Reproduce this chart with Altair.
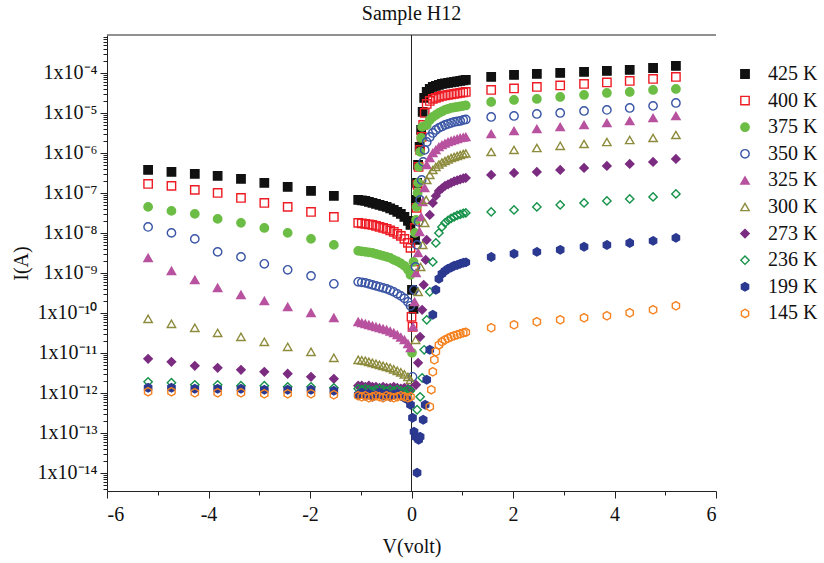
import altair as alt
import pandas as pd

FONT = "Liberation Serif"

SERIES = ["425 K", "400 K", "375 K", "350 K", "325 K", "300 K", "273 K", "236 K", "199 K", "145 K"]
COLORS = ["#111111", "#ed1c24", "#6cbd45", "#3a55a5", "#b8529f", "#8d8b3c", "#7b2c80", "#17924a", "#2b3990", "#f58220"]
FILLS = ["#111111", "transparent", "#6cbd45", "transparent", "#b8529f", "transparent", "#7b2c80", "transparent", "#2b3990", "transparent"]
HEX = "M0,-1L0.866,-0.5L0.866,0.5L0,1L-0.866,0.5L-0.866,-0.5Z"
SHAPES = ["square", "square", "circle", "circle", "triangle-up", "triangle-up", "diamond", "diamond", HEX, HEX]
SIZES = [70, 70, 85, 85, 120, 120, 110, 110, 95, 95]

# voltages (V)
LEFT_SPARSE_X = [-5.19, -4.73, -4.27, -3.82, -3.36, -2.90, -2.44, -1.98, -1.53]
LEFT_DENSE_X = [-1.05, -0.98, -0.91, -0.84, -0.77, -0.70, -0.63, -0.56, -0.49, -0.42, -0.35, -0.28, -0.21, -0.14, -0.07, -0.02]
RIGHT_DENSE_X = [0.30, 0.36, 0.42, 0.48, 0.54, 0.60, 0.66, 0.72, 0.78, 0.84, 0.90, 0.96, 1.02, 1.07]
RIGHT_SPARSE_X = [1.57, 2.02, 2.47, 2.93, 3.40, 3.85, 4.30, 4.76, 5.21]

# currents (A)
I_425_LS = [3.76e-7, 3.35e-7, 2.99e-7, 2.66e-7, 2.24e-7, 1.78e-7, 1.41e-7, 1.12e-7, 8.4e-8]
I_425_LD = [6.68e-8, 6.49e-8, 6.31e-8, 5.96e-8, 5.62e-8, 5.31e-8, 5.01e-8, 4.73e-8, 4.47e-8, 4.1e-8, 3.76e-8, 3.35e-8, 2.99e-8, 2.51e-8, 2.0e-8, 1.58e-8]
V_425_T = [0.01, 0.04, 0.07, 0.09, 0.11, 0.13, 0.16, 0.19, 0.22, 0.25]
I_425_T = [3.76e-10, 1.26e-10, 6.68e-9, 6.68e-8, 1.78e-7, 5.01e-7, 1.41e-6, 3.76e-6, 1.06e-5, 2.37e-5]
I_425_RD = [3.35e-5, 3.98e-5, 4.47e-5, 4.73e-5, 5.01e-5, 5.31e-5, 5.46e-5, 5.62e-5, 5.79e-5, 5.96e-5, 6.13e-5, 6.31e-5, 6.49e-5, 6.68e-5]
I_425_RS = [7.94e-5, 8.91e-5, 9.44e-5, 1.0e-4, 1.06e-4, 1.12e-4, 1.19e-4, 1.33e-4, 1.50e-4]

I_400_LS = [1.68e-7, 1.50e-7, 1.19e-7, 1.0e-7, 7.5e-8, 5.62e-8, 4.47e-8, 3.35e-8, 2.51e-8]
I_400_LD = [1.78e-8, 1.73e-8, 1.68e-8, 1.63e-8, 1.58e-8, 1.50e-8, 1.41e-8, 1.33e-8, 1.26e-8, 1.15e-8, 1.06e-8, 9.44e-9, 8.41e-9, 7.08e-9, 5.62e-9, 4.22e-9]
V_400_T = [0.00, 0.02, 0.05, 0.07, 0.10, 0.12, 0.14, 0.17, 0.20, 0.23, 0.26]
I_400_T = [7.94e-11, 4.47e-11, 1.19e-9, 1.33e-8, 4.22e-8, 1.58e-7, 4.47e-7, 1.19e-6, 2.51e-6, 5.01e-6, 1.0e-5]
I_400_RD = [1.68e-5, 2.0e-5, 2.24e-5, 2.37e-5, 2.51e-5, 2.66e-5, 2.74e-5, 2.82e-5, 2.90e-5, 2.99e-5, 3.08e-5, 3.16e-5, 3.25e-5, 3.35e-5]
I_400_RS = [3.76e-5, 4.10e-5, 4.47e-5, 4.87e-5, 5.31e-5, 5.79e-5, 6.31e-5, 7.08e-5, 7.94e-5]

I_375_LS = [4.47e-8, 3.55e-8, 2.99e-8, 2.24e-8, 1.78e-8, 1.33e-8, 1.0e-8, 7.08e-9, 5.01e-9]
I_375_LD = [3.55e-9, 3.45e-9, 3.35e-9, 3.25e-9, 3.16e-9, 2.99e-9, 2.82e-9, 2.66e-9, 2.51e-9, 2.37e-9, 2.11e-9, 1.94e-9, 1.73e-9, 1.50e-9, 1.19e-9, 8.91e-10]
V_375_T = [0.01, 0.04, 0.07, 0.09, 0.10, 0.12, 0.13, 0.15, 0.17, 0.19, 0.21]
I_375_T = [1.0e-11, 1.88e-9, 1.0e-8, 2.11e-8, 4.47e-8, 1.0e-7, 1.78e-7, 4.47e-7, 1.06e-6, 2.37e-6, 4.47e-6]
I_375_RD = [5.01e-6, 6.68e-6, 7.94e-6, 8.91e-6, 1.0e-5, 1.09e-5, 1.19e-5, 1.26e-5, 1.33e-5, 1.37e-5, 1.41e-5, 1.45e-5, 1.50e-5, 1.54e-5]
I_375_RS = [1.88e-5, 2.11e-5, 2.24e-5, 2.51e-5, 2.82e-5, 3.16e-5, 3.35e-5, 3.76e-5, 3.98e-5]

I_350_LS = [1.41e-8, 1.0e-8, 7.08e-9, 3.35e-9, 2.51e-9, 1.68e-9, 1.19e-9, 8.41e-10, 5.31e-10]
I_350_LD = [5.96e-10, 5.79e-10, 5.62e-10, 5.31e-10, 5.01e-10, 4.73e-10, 4.47e-10, 4.22e-10, 3.98e-10, 3.65e-10, 3.35e-10, 2.99e-10, 2.66e-10, 2.30e-10, 1.88e-10, 1.50e-10]
V_350_T = [0.02, 0.05, 0.08, 0.11, 0.14, 0.17, 0.20, 0.23, 0.26]
I_350_T = [2.51e-12, 3.76e-10, 1.41e-9, 5.01e-9, 1.88e-8, 6.68e-8, 2.11e-7, 5.96e-7, 1.19e-6]
I_350_RD = [1.88e-6, 2.51e-6, 3.16e-6, 3.76e-6, 4.22e-6, 4.6e-6, 5.01e-6, 5.31e-6, 5.62e-6, 5.96e-6, 6.13e-6, 6.31e-6, 6.68e-6, 6.88e-6]
I_350_RS = [7.94e-6, 8.41e-6, 9.44e-6, 1.0e-5, 1.12e-5, 1.19e-5, 1.33e-5, 1.50e-5, 1.78e-5]

I_325_LS = [2.37e-9, 1.12e-9, 6.68e-10, 4.22e-10, 2.82e-10, 1.99e-10, 1.41e-10, 1.0e-10, 7.5e-11]
I_325_LD = [5.96e-11, 5.62e-11, 5.31e-11, 5.01e-11, 4.73e-11, 4.47e-11, 4.22e-11, 3.98e-11, 3.76e-11, 3.45e-11, 3.16e-11, 2.82e-11, 2.44e-11, 2.11e-11, 1.68e-11, 1.33e-11]
V_325_T = [0.03, 0.06, 0.09, 0.13, 0.16, 0.19, 0.22, 0.26]
I_325_T = [4.47e-11, 1.88e-10, 1.0e-9, 3.16e-9, 1.06e-8, 2.51e-8, 5.96e-8, 1.33e-7]
I_325_RD = [5.01e-7, 7.5e-7, 1.0e-6, 1.19e-6, 1.41e-6, 1.58e-6, 1.73e-6, 1.88e-6, 2.0e-6, 2.11e-6, 2.24e-6, 2.37e-6, 2.44e-6, 2.51e-6]
I_325_RS = [2.99e-6, 3.55e-6, 3.98e-6, 4.47e-6, 5.01e-6, 5.62e-6, 6.31e-6, 7.5e-6, 8.41e-6]

I_300_LS = [7.08e-11, 5.31e-11, 4.22e-11, 3.16e-11, 2.51e-11, 1.88e-11, 1.41e-11, 1.06e-11, 7.5e-12]
I_300_LD = [6.68e-12, 6.49e-12, 6.31e-12, 5.96e-12, 5.62e-12, 5.31e-12, 5.01e-12, 4.73e-12, 4.47e-12, 4.22e-12, 3.87e-12, 3.55e-12, 3.25e-12, 2.90e-12, 2.51e-12, 2.11e-12]
V_300_T = [0.08, 0.13, 0.18, 0.22, 0.26, 0.29]
I_300_T = [2.11e-11, 3.35e-10, 1.41e-9, 5.01e-9, 1.78e-8, 6.68e-8]
I_300_RD = [2.11e-7, 2.82e-7, 3.76e-7, 4.47e-7, 5.16e-7, 5.79e-7, 6.31e-7, 6.88e-7, 7.5e-7, 7.94e-7, 8.41e-7, 8.91e-7, 9.44e-7, 9.71e-7]
I_300_RS = [1.06e-6, 1.19e-6, 1.33e-6, 1.50e-6, 1.68e-6, 1.88e-6, 2.11e-6, 2.37e-6, 2.82e-6]

I_273_LS = [7.08e-12, 5.96e-12, 4.73e-12, 4.22e-12, 3.76e-12, 3.35e-12, 2.99e-12, 2.51e-12, 2.24e-12]
I_273_LD = [1.50e-12, 1.50e-12, 1.41e-12, 1.50e-12, 1.41e-12, 1.41e-12, 1.33e-12, 1.41e-12, 1.33e-12, 1.33e-12, 1.41e-12, 1.33e-12, 1.26e-12, 1.33e-12, 1.26e-12, 1.19e-12]
V_273_T = [0.09, 0.13, 0.17, 0.21, 0.24, 0.28]
I_273_T = [1.58e-12, 5.62e-12, 2.51e-11, 1.19e-10, 5.01e-10, 2.11e-9]
I_273_RD = [6.68e-9, 2.82e-8, 5.62e-8, 8.41e-8, 1.12e-7, 1.30e-7, 1.50e-7, 1.63e-7, 1.78e-7, 1.94e-7, 2.05e-7, 2.17e-7, 2.30e-7, 2.37e-7]
I_273_RS = [2.82e-7, 3.16e-7, 3.35e-7, 3.76e-7, 4.22e-7, 4.73e-7, 5.31e-7, 5.96e-7, 7.08e-7]

I_236_LS = [1.88e-12, 1.78e-12, 1.58e-12, 1.58e-12, 1.50e-12, 1.50e-12, 1.41e-12, 1.41e-12, 1.33e-12]
I_236_LD = [1.26e-12, 1.19e-12, 1.26e-12, 1.19e-12, 1.12e-12, 1.19e-12, 1.26e-12, 1.19e-12, 1.12e-12, 1.19e-12, 1.12e-12, 1.19e-12, 1.12e-12, 1.06e-12, 1.19e-12, 1.12e-12]
V_236_T = [0.11, 0.17, 0.21, 0.25]
I_236_T = [3.76e-13, 7.94e-13, 2.37e-12, 1.19e-11]
I_236_RD = [6.68e-11, 3.35e-10, 1.88e-9, 5.62e-9, 1.0e-8, 1.41e-8, 1.78e-8, 2.05e-8, 2.30e-8, 2.51e-8, 2.74e-8, 2.90e-8, 3.08e-8, 3.16e-8]
I_236_RS = [3.35e-8, 3.76e-8, 4.47e-8, 5.01e-8, 5.62e-8, 6.31e-8, 7.08e-8, 7.94e-8, 9.44e-8]

I_199_LS = [1.33e-12, 1.33e-12, 1.26e-12, 1.26e-12, 1.26e-12, 1.19e-12, 1.19e-12, 1.19e-12, 1.12e-12]
I_199_LD = [8.91e-13, 1.0e-12, 8.41e-13, 9.44e-13, 7.94e-13, 8.91e-13, 1.0e-12, 8.41e-13, 9.44e-13, 7.94e-13, 8.91e-13, 9.44e-13, 8.41e-13, 7.50e-13, 6.68e-13, 5.01e-13]
V_199_T = [0.02, 0.05, 0.08, 0.11, 0.14, 0.17, 0.23, 0.27]
I_199_T = [2.37e-13, 1.06e-13, 7.94e-14, 1.0e-14, 6.68e-14, 7.94e-14, 2.11e-13, 5.01e-13]
I_199_RD = [2.11e-12, 1.19e-11, 8.91e-11, 3.76e-10, 7.08e-10, 9.44e-10, 1.12e-9, 1.26e-9, 1.37e-9, 1.50e-9, 1.58e-9, 1.68e-9, 1.78e-9, 1.83e-9]
I_199_RS = [2.51e-9, 2.99e-9, 3.35e-9, 3.76e-9, 4.47e-9, 5.01e-9, 5.62e-9, 6.31e-9, 7.50e-9]

I_145_LS = [1.06e-12, 1.06e-12, 1.0e-12, 1.0e-12, 1.0e-12, 9.44e-13, 9.44e-13, 9.44e-13, 8.91e-13]
I_145_LD = [8.41e-13, 7.94e-13, 8.41e-13, 7.50e-13, 7.94e-13, 8.41e-13, 7.94e-13, 7.50e-13, 8.41e-13, 7.94e-13, 7.50e-13, 7.94e-13, 8.41e-13, 7.94e-13, 7.50e-13, 7.94e-13]
V_145_T = [0.39, 0.45]
I_145_T = [1.19e-12, 6.68e-12]
I_145_RD = [None, 4.47e-13, 3.35e-12, 1.06e-11, 1.58e-11, 1.88e-11, 2.11e-11, 2.30e-11, 2.51e-11, 2.66e-11, 2.82e-11, 2.99e-11, 3.16e-11, 3.25e-11]
I_145_RS = [4.22e-11, 5.01e-11, 5.96e-11, 6.68e-11, 7.50e-11, 8.41e-11, 1.0e-10, 1.19e-10, 1.50e-10]

DATA = {
    "425 K": (I_425_LS, I_425_LD, V_425_T, I_425_T, I_425_RD, I_425_RS),
    "400 K": (I_400_LS, I_400_LD, V_400_T, I_400_T, I_400_RD, I_400_RS),
    "375 K": (I_375_LS, I_375_LD, V_375_T, I_375_T, I_375_RD, I_375_RS),
    "350 K": (I_350_LS, I_350_LD, V_350_T, I_350_T, I_350_RD, I_350_RS),
    "325 K": (I_325_LS, I_325_LD, V_325_T, I_325_T, I_325_RD, I_325_RS),
    "300 K": (I_300_LS, I_300_LD, V_300_T, I_300_T, I_300_RD, I_300_RS),
    "273 K": (I_273_LS, I_273_LD, V_273_T, I_273_T, I_273_RD, I_273_RS),
    "236 K": (I_236_LS, I_236_LD, V_236_T, I_236_T, I_236_RD, I_236_RS),
    "199 K": (I_199_LS, I_199_LD, V_199_T, I_199_T, I_199_RD, I_199_RS),
    "145 K": (I_145_LS, I_145_LD, V_145_T, I_145_T, I_145_RD, I_145_RS),
}

Y_MIN, Y_MAX = 3.5e-15, 8.9e-4
X_TICKS = [-6, -5, -4, -3, -2, -1, 0, 1, 2, 3, 4, 5, 6]
Y_TICKS = [m * 10.0 ** k for k in range(-15, -3) for m in range(1, 10) if Y_MIN <= m * 10.0 ** k <= Y_MAX]
SUP = ["⁻¹⁴", "⁻¹³", "⁻¹²", "⁻¹¹", "⁻¹⁰", "⁻⁹", "⁻⁸", "⁻⁷", "⁻⁶", "⁻⁵", "⁻⁴"]

rows = []
for name in SERIES:
    ls, ld, vt, it, rd, rs = DATA[name]
    xs = LEFT_SPARSE_X + LEFT_DENSE_X + vt + RIGHT_DENSE_X + RIGHT_SPARSE_X
    ys = ls + ld + it + rd + rs
    for v, i in zip(xs, ys):
        if i is not None:
            rows.append({"V": v, "I": i, "T": name})
df = pd.DataFrame(rows)

is_major = "abs(log(datum.value)/LN10 - round(log(datum.value)/LN10)) < 0.01"
sup_arr = "[" + ",".join("'" + s + "'" for s in SUP) + "]"
y_label_expr = f"({is_major}) ? '1x10' + {sup_arr}[round(log(datum.value)/LN10) + 14] : ''"

legend = alt.Legend(
    orient="none", legendX=628, legendY=29, title=None,
    labelFont=FONT, labelFontSize=20, labelColor="#111", labelOffset=13,
    rowPadding=6.6, padding=0, symbolStrokeWidth=1.4,
)

points = alt.Chart(df).mark_point(opacity=1, strokeWidth=1.4).encode(
    x=alt.X("V:Q", scale=alt.Scale(domain=[-6, 6], nice=False, zero=False),
            axis=alt.Axis(title="V(volt)", values=X_TICKS,
                          labelExpr="datum.value % 2 == 0 ? '' + datum.value : ''",
                          tickSize={"condition": {"test": "datum.value % 2 == 0", "value": 7}, "value": 4},
                          labelPadding=6, titlePadding=12)),
    y=alt.Y("I:Q", scale=alt.Scale(type="log", domain=[Y_MIN, Y_MAX], nice=False),
            axis=alt.Axis(title="I(A)", values=Y_TICKS, labelExpr=y_label_expr,
                          tickSize={"condition": {"test": is_major, "value": 7}, "value": 4},
                          labelPadding=3, titlePadding=6)),
    stroke=alt.Stroke("T:N", scale=alt.Scale(domain=SERIES, range=COLORS), legend=legend),
    fill=alt.Fill("T:N", scale=alt.Scale(domain=SERIES, range=FILLS), legend=legend),
    shape=alt.Shape("T:N", scale=alt.Scale(domain=SERIES, range=SHAPES), legend=legend),
    size=alt.Size("T:N", scale=alt.Scale(domain=SERIES, range=SIZES), legend=legend),
)

top_rule = alt.Chart().mark_rule(color="#222", strokeWidth=1).encode(
    x=alt.XDatum(-6), x2=alt.X2Datum(6), y=alt.YDatum(Y_MAX))
zero_rule = alt.Chart().mark_rule(color="#222", strokeWidth=1).encode(
    x=alt.XDatum(0), y=alt.YDatum(Y_MIN), y2=alt.Y2Datum(Y_MAX))

chart = alt.layer(zero_rule, top_rule, points).properties(
    width=609, height=456,
    autosize=alt.AutoSizeParams(type="none"),
    padding={"left": 107, "top": 35, "right": 108, "bottom": 72},
    title=alt.TitleParams("Sample H12", font=FONT, fontSize=20, fontWeight="normal",
                          color="#111", offset=11, anchor="middle"),
).configure_view(stroke=None).configure_axis(
    domainColor="#222", tickColor="#222", labelColor="#111", titleColor="#111",
    labelFont=FONT, titleFont=FONT, labelFontSize=20, titleFontSize=20,
    titleFontWeight="normal", grid=False,
)

chart.save("out.html", embed_options={"renderer": "svg", "actions": False})
